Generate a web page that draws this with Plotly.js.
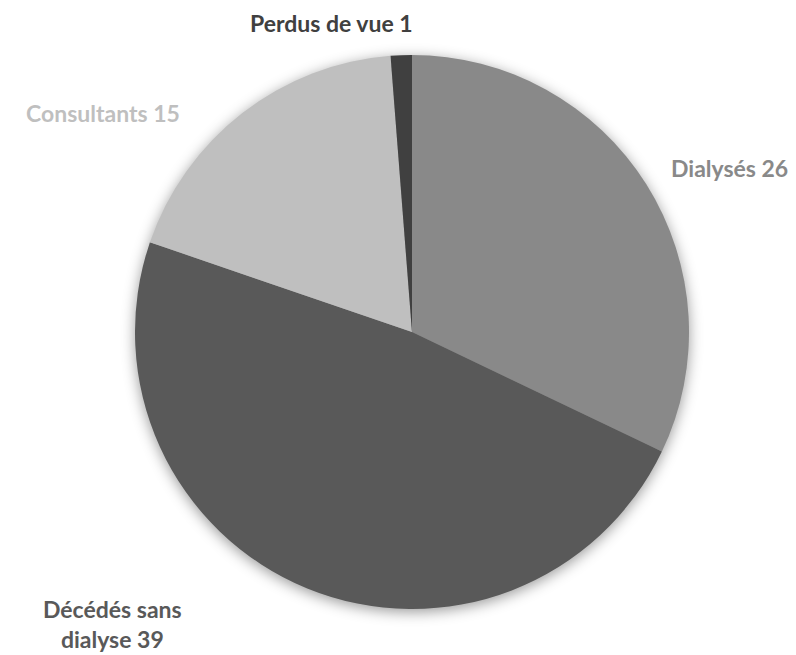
<!DOCTYPE html>
<html>
<head>
<meta charset="utf-8">
<script src="https://cdn.plot.ly/plotly-3.0.1.min.js"></script>
<style>
html,body{margin:0;padding:0;background:#fff;}
#chart{width:796px;height:655px;}
#chart .pielayer{filter: drop-shadow(0px 3px 7px rgba(0,0,0,0.4));}
</style>
</head>
<body>
<div id="chart"></div>
<script>
const categories = ["Dialysés", "Décédés sans dialyse", "Consultants", "Perdus de vue"];
const values = [26, 39, 15, 1];
const labelTexts = ["Dialysés 26", "Décédés sans<br>dialyse 39", "Consultants 15", "Perdus de vue 1"];
const colors = ["#898989", "#595959", "#bfbfbf", "#404040"];

// label anchor positions (paper coords, layout only)
const labelPos = [
  {x: 729/796, y: 1 - 168/655},
  {x: 112/796, y: 1 - 624/655},
  {x: 103/796, y: 1 - 113/655},
  {x: 331/796, y: 1 - 23/655}
];

const W = 796, H = 655;
const cx = 412, cy = 332, r = 277;

const trace = {
  type: "pie",
  labels: categories,
  values: values,
  sort: false,
  direction: "clockwise",
  rotation: 0,
  marker: {colors: colors, line: {width: 0}},
  textinfo: "none",
  hoverinfo: "label+value",
  domain: {x: [(cx - r)/W, (cx + r)/W], y: [1 - (cy + r)/H, 1 - (cy - r)/H]}
};

const annotations = labelTexts.map((t, i) => ({
  text: "<b>" + t + "</b>",
  x: labelPos[i].x, y: labelPos[i].y,
  xref: "paper", yref: "paper",
  xanchor: "center", yanchor: "middle",
  showarrow: false,
  font: {family: "Lato, 'Open Sans', sans-serif", size: 23, color: colors[i]}
}));

Plotly.newPlot("chart", [trace], {
  width: W, height: H,
  margin: {l: 0, r: 0, t: 0, b: 0},
  paper_bgcolor: "#ffffff",
  showlegend: false,
  annotations: annotations
}, {displayModeBar: false, staticPlot: true});
</script>
</body>
</html>
